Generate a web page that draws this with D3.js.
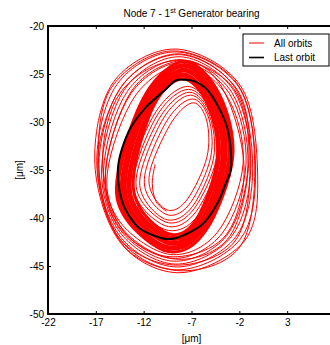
<!DOCTYPE html>
<html>
<head>
<meta charset="utf-8">
<script src="https://cdn.jsdelivr.net/npm/d3@7"></script>
<style>
  body { margin: 0; background: #fff; }
  svg { display: block; font-family: "Liberation Sans", Arial, sans-serif; }
</style>
</head>
<body>
<div id="chart"></div>
<script>
// axis ticks
const xTicks = [-22, -17, -12, -7, -2, 3];
const yTicks = [-50, -45, -40, -35, -30, -25, -20];
const legendLabels = ["All orbits", "Last orbit"];

// last orbit [x um, y um]
const lastOrbit = [[-7.7,-25.6],[-6.6,-25.8],[-5.3,-26.7],[-4.2,-28.4],[-3.3,-30.5],[-2.9,-32.9],[-2.9,-35.0],[-3.5,-36.6],[-4.2,-38.3],[-5.6,-40.4],[-7.0,-41.4],[-8.7,-42.1],[-10.1,-42.1],[-12.4,-41.1],[-13.8,-39.3],[-14.5,-37.3],[-14.7,-35.0],[-14.3,-32.9],[-13.3,-30.5],[-11.7,-28.4],[-9.8,-26.7],[-8.7,-25.7]];

// start of the trajectory (open hook inside the inner loops)
const spiralStart = [[-10.8,-34.4],[-11.1,-36.4],[-10.7,-38.3],[-9.6,-39.3]];

// inner (sparse) orbits
const innerOrbits = [
  [[-6.8,-28.0],[-5.4,-29.9],[-5.4,-33.7],[-7.4,-38.0],[-9.4,-39.2],[-11.2,-37.3],[-11.2,-34.6],[-9.0,-29.9]],
  [[-6.9,-27.6],[-5.2,-29.6],[-5.0,-33.7],[-7.1,-38.4],[-9.4,-39.7],[-11.6,-37.6],[-11.7,-34.7],[-9.4,-29.6]],
  [[-7.1,-27.2],[-5.1,-29.4],[-4.7,-33.8],[-6.9,-38.8],[-9.5,-40.2],[-12.0,-37.9],[-12.2,-34.9],[-9.8,-29.4]],
  [[-7.2,-26.9],[-5.0,-29.2],[-4.4,-33.8],[-6.7,-39.0],[-9.4,-40.5],[-12.3,-38.1],[-12.6,-34.9],[-10.1,-29.2]],
  [[-7.3,-26.6],[-4.9,-29.0],[-4.1,-33.8],[-6.5,-39.3],[-9.4,-40.9],[-12.5,-38.4],[-12.9,-35.0],[-10.4,-29.0]],
  [[-7.4,-26.3],[-4.7,-28.9],[-3.8,-33.9],[-6.3,-39.7],[-9.4,-41.3],[-12.8,-38.7],[-13.3,-35.2],[-10.7,-28.9]]
];

// the dense band of orbits around the last one
const denseOrbits = [
  [[-7.9,-25.5],[-5.3,-28.2],[-4.3,-33.7],[-6.4,-40.0],[-9.2,-41.7],[-12.4,-38.9],[-13.0,-35.1],[-10.9,-28.2]],
  [[-7.9,-25.2],[-5.2,-28.0],[-4.1,-33.7],[-6.3,-40.2],[-9.2,-42.0],[-12.7,-39.1],[-13.3,-35.1],[-11.0,-28.0]],
  [[-7.9,-25.0],[-5.0,-27.9],[-3.8,-33.7],[-6.1,-40.4],[-9.3,-42.2],[-12.9,-39.2],[-13.5,-35.2],[-11.1,-27.9]],
  [[-7.8,-24.7],[-4.8,-27.7],[-3.6,-33.7],[-6.0,-40.6],[-9.3,-42.5],[-13.1,-39.4],[-13.8,-35.2],[-11.3,-27.7]],
  [[-7.8,-24.5],[-4.6,-27.6],[-3.4,-33.7],[-5.9,-40.8],[-9.3,-42.7],[-13.3,-39.5],[-14.0,-35.3],[-11.4,-27.6]],
  [[-7.8,-24.2],[-4.5,-27.4],[-3.1,-33.7],[-5.8,-40.9],[-9.4,-43.0],[-13.5,-39.7],[-14.2,-35.3],[-11.5,-27.4]],
  [[-7.7,-24.0],[-4.3,-27.2],[-2.9,-33.7],[-5.7,-41.1],[-9.4,-43.2],[-13.7,-39.9],[-14.5,-35.3],[-11.6,-27.2]],
  [[-7.7,-23.7],[-4.1,-27.1],[-2.7,-33.7],[-5.5,-41.3],[-9.4,-43.5],[-13.9,-40.0],[-14.7,-35.4],[-11.8,-27.1]]
];

// outer (sparse) orbits, from the outermost inward, then a few crossing ones
const outerOrbits = [
  [[-8.7,-22.4],[-1.9,-26.2],[-0.1,-35.0],[-1.4,-42.3],[-8.2,-45.7],[-14.4,-42.6],[-17.1,-34.4],[-15.2,-25.9]],
  [[-8.6,-22.7],[-2.1,-26.3],[-0.3,-34.9],[-1.9,-42.2],[-8.4,-45.4],[-14.4,-42.3],[-16.9,-34.5],[-14.8,-26.1]],
  [[-8.4,-22.9],[-2.4,-26.5],[-0.6,-34.8],[-2.4,-42.0],[-8.5,-45.1],[-14.4,-42.0],[-16.7,-34.7],[-14.4,-26.4]],
  [[-8.3,-23.2],[-2.6,-26.7],[-0.8,-34.6],[-2.8,-41.9],[-8.7,-44.8],[-14.4,-41.6],[-16.4,-34.9],[-14.0,-26.6]],
  [[-8.2,-23.5],[-2.8,-26.9],[-1.1,-34.5],[-3.3,-41.8],[-8.9,-44.5],[-14.4,-41.3],[-16.2,-35.0],[-13.7,-26.8]],
  [[-8.0,-23.8],[-3.0,-27.1],[-1.3,-34.4],[-3.8,-41.6],[-9.0,-44.2],[-14.4,-40.9],[-16.0,-35.1],[-13.3,-27.0]],
  [[-7.9,-24.1],[-3.3,-27.3],[-1.6,-34.3],[-4.3,-41.5],[-9.2,-43.8],[-14.4,-40.5],[-15.8,-35.3],[-12.9,-27.3]],
  [[-9.2,-22.6],[-2.3,-25.9],[-0.4,-34.0],[-1.8,-42.8],[-7.8,-45.5],[-14.0,-43.0],[-16.6,-35.8],[-15.6,-26.8]],
  [[-8.0,-23.0],[-2.0,-27.0],[-0.9,-35.6],[-2.6,-42.6],[-8.9,-44.9],[-14.8,-41.8],[-16.8,-33.8],[-14.0,-25.9]],
  [[-8.6,-23.6],[-2.6,-26.5],[-1.0,-33.8],[-3.0,-41.9],[-8.4,-44.3],[-14.0,-41.5],[-16.3,-34.3],[-14.4,-26.9]],
  [[-7.6,-23.6],[-3.6,-26.8],[-1.5,-35.0],[-3.6,-42.0],[-9.6,-44.0],[-14.8,-40.6],[-15.9,-34.4],[-13.0,-26.4]]
];

const width = 330;
const height = 345;
const marginTop = 26;
const marginLeft = 48;
const plotRight = 335;   // the right frame sits just past the window edge
const plotBottom = 314;

const x = d3.scaleLinear().domain([-22, 8]).range([marginLeft, plotRight]);
const y = d3.scaleLinear().domain([-50, -20]).range([plotBottom, marginTop]);

const svg = d3.select("#chart").append("svg")
  .attr("width", width)
  .attr("height", height)
  .attr("viewBox", [0, 0, width, height]);

const closed = d3.line().x(d => x(d[0])).y(d => y(d[1])).curve(d3.curveCatmullRomClosed.alpha(0));
const open = d3.line().x(d => x(d[0])).y(d => y(d[1])).curve(d3.curveCatmullRom.alpha(0));

// red orbits
const red = svg.append("g").attr("fill", "none").attr("stroke", "#ff0000");
red.append("path").attr("d", open(spiralStart)).attr("stroke-width", 1);
red.selectAll("path.thin")
  .data(innerOrbits.concat(outerOrbits))
  .join("path")
  .attr("class", "thin")
  .attr("stroke-width", 1)
  .attr("d", closed);
red.selectAll("path.dense")
  .data(denseOrbits)
  .join("path")
  .attr("class", "dense")
  .attr("stroke-width", 3)
  .attr("d", closed);

// last orbit
svg.append("path")
  .attr("fill", "none")
  .attr("stroke", "#000")
  .attr("stroke-width", 2)
  .attr("d", closed(lastOrbit));

// axes, ticks pointing inward like matlab, plain hyphen minus in labels
const fmt = d => String(d);

svg.append("g")
  .attr("transform", `translate(0,${plotBottom})`)
  .call(d3.axisBottom(x).tickValues(xTicks).tickFormat(fmt).tickSizeInner(-3).tickSizeOuter(0).tickPadding(5))
  .call(g => g.select(".domain").remove());

svg.append("g")
  .attr("transform", `translate(0,${marginTop})`)
  .call(d3.axisTop(x).tickValues(xTicks).tickSizeInner(-3).tickSizeOuter(0).tickFormat(""))
  .call(g => g.select(".domain").remove());

svg.append("g")
  .attr("transform", `translate(${marginLeft},0)`)
  .call(d3.axisLeft(y).tickValues(yTicks).tickFormat(fmt).tickSizeInner(-3).tickSizeOuter(0).tickPadding(4))
  .call(g => g.select(".domain").remove());

svg.selectAll(".tick line").attr("stroke", "#000");
svg.selectAll(".tick text")
  .attr("font-size", 10)
  .attr("font-family", "Liberation Sans, Arial, sans-serif")
  .attr("fill", "#000");

// frame
svg.append("rect")
  .attr("x", marginLeft)
  .attr("y", marginTop)
  .attr("width", plotRight - marginLeft)
  .attr("height", plotBottom - marginTop)
  .attr("fill", "none")
  .attr("stroke", "#000")
  .attr("stroke-width", 2);

// title with superscript
const title = svg.append("text")
  .attr("x", (marginLeft + plotRight) / 2)
  .attr("y", 17)
  .attr("text-anchor", "middle")
  .attr("font-size", 10);
title.append("tspan").text("Node 7 - 1");
title.append("tspan").attr("dy", -4).attr("font-size", 7).text("st");
title.append("tspan").attr("dy", 4).text(" Generator bearing");

// axis labels
svg.append("text")
  .attr("x", (marginLeft + plotRight) / 2)
  .attr("y", 342)
  .attr("text-anchor", "middle")
  .attr("font-size", 10)
  .text("[μm]");

svg.append("text")
  .attr("transform", "translate(23,170) rotate(-90)")
  .attr("text-anchor", "middle")
  .attr("font-size", 10)
  .text("[μm]");

// legend
const legend = svg.append("g").attr("transform", "translate(243,34)");
legend.append("rect")
  .attr("width", 86)
  .attr("height", 32)
  .attr("fill", "#fff")
  .attr("stroke", "#000")
  .attr("stroke-width", 1);

legend.selectAll("g")
  .data(legendLabels)
  .join("g")
  .attr("transform", (d, i) => `translate(0,${9 + i * 14.5})`)
  .call(g => g.append("line")
    .attr("x1", 6).attr("x2", 21)
    .attr("stroke", (d, i) => i === 0 ? "#ff0000" : "#000")
    .attr("stroke-width", (d, i) => i === 0 ? 1 : 1.6))
  .call(g => g.append("text")
    .attr("x", 31)
    .attr("dy", "0.35em")
    .attr("font-size", 10)
    .text(d => d));
</script>
</body>
</html>
